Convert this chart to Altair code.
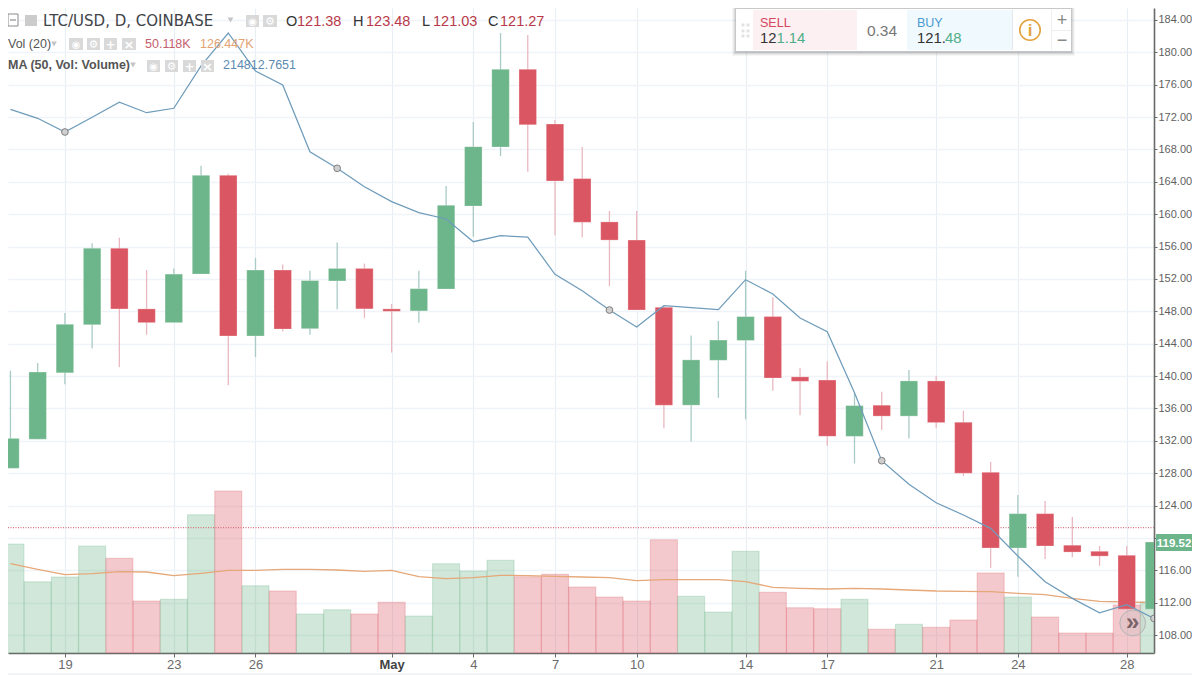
import altair as alt
import pandas as pd

# ---- data -----------------------------------------------------------------
days = list(range(43))
opens = [128.6,132.2,140.4,146.35,155.8,148.3,146.6,152.6,164.8,144.95,153.1,145.85,151.75,153.3,148.3,148.05,150.75,161.0,168.3,177.9,171.15,164.4,159.05,156.8,148.5,136.4,141.95,144.4,147.35,139.9,139.5,132.55,136.4,135.05,139.4,134.3,128.1,118.75,123.0,119.1,118.35,117.85,111.2]
closes = [132.3,140.5,146.4,155.8,148.3,146.6,152.6,164.8,144.95,153.1,145.8,151.8,153.3,148.3,148.0,150.8,161.1,168.35,177.9,171.05,164.1,159.0,156.8,148.15,136.4,142.0,144.45,147.35,139.75,139.35,132.55,136.35,135.05,139.4,134.25,128.0,118.75,123.0,119.0,118.25,117.75,111.2,119.5]
highs = [140.66,141.6,147.8,156.4,157.1,153.1,153.3,166.0,165.0,154.6,153.8,153.0,156.5,153.9,148.9,153.0,163.5,171.4,182.4,182.15,171.65,168.3,160.4,160.4,148.6,145.0,146.8,153.0,149.7,141.0,141.8,137.85,138.05,140.75,140.0,135.7,129.4,125.3,124.55,122.6,119.0,119.0,119.52]
lows = [128.6,132.2,139.0,143.4,141.1,145.1,146.55,152.6,138.85,142.35,145.5,145.1,148.25,147.15,142.9,146.6,150.75,157.2,167.2,165.25,157.4,157.15,151.1,148.15,133.55,131.9,137.3,134.65,138.2,135.15,131.4,129.2,133.35,132.3,133.6,127.65,116.3,115.2,117.4,117.6,116.55,111.2,111.2]
volumes = [270.3,176.8,188.5,265.4,234.9,129.0,133.2,343.0,401.8,166.9,153.8,96.7,107.4,96.7,125.7,91.8,221.5,203.4,229.9,189.2,195.2,163.7,138.9,129.0,281.0,140.6,101.7,252.2,150.5,112.3,109.9,133.2,58.8,71.2,63.7,81.8,198.4,138.9,89.3,49.6,49.6,119.0,127.2]
vol_ma = [221.5,207.6,194.2,196.7,201.6,200.9,191.7,197.7,205.1,205.1,207.6,207.6,205.8,202.6,205.1,189.2,184.3,186.7,192.7,191.7,190.2,188.5,186.7,179.3,181.8,181.8,181.8,176.8,162.9,160.5,158.7,160.5,158.7,156.2,153.8,153.0,152.0,148.1,144.6,135.7,128.2,126.5,124.7]
ma50_line = [172.96,171.85,170.16,171.98,173.83,172.54,173.09,178.32,182.39,177.7,175.97,167.72,165.67,163.4,161.55,160.19,159.41,156.6,157.34,157.18,152.57,150.55,148.16,146.06,148.69,148.45,148.2,151.91,150.14,147.17,145.48,137.94,129.54,126.62,124.35,122.83,121.18,117.76,114.59,112.53,110.75,111.74,110.06]
ma_markers = [2,12,22,32,42]
last_close_line = 121.27
tick_days = [2,6,9,14,17,20,23,27,30,34,37,41]
tick_labels = ["19","23","26","May","4","7","10","14","17","21","24","28"]
price_ticks = list(range(108,188,4))

GREEN, RED = "#6db58a", "#da5662"
df = pd.DataFrame({"day":days,"open":opens,"close":closes,"high":highs,"low":lows,
                   "vol":volumes,"volma":vol_ma,"ma":ma50_line})
df["dir"] = ["up" if c>=o else "down" for o,c in zip(opens,closes)]
mk = df[df.day.isin(ma_markers)]

xscale = alt.Scale(domain=[-0.09,42], nice=False, zero=False, padding=0)
pscale = alt.Scale(domain=[105.78,185.48], nice=False, zero=False, padding=0)
vscale = alt.Scale(domain=[0,1599.6], nice=False, zero=False, padding=0)
label_map = "{" + ",".join(f"{d}:'{l}'" for d,l in zip(tick_days,tick_labels)) + "}"
FONT = "Liberation Sans"

xaxis = alt.Axis(values=tick_days, labelExpr=label_map+"[datum.value]", title=None, grid=True,
                 gridColor="#e9eef4", gridWidth=1.2, domainColor="#6a6a6a", domainWidth=1.6,
                 tickColor="#6a6a6a", tickSize=4, labelColor={"condition":{"test":"datum.value == 14","value":"#444444"},"value":"#6b6b6b"},
                 labelFontWeight={"condition":{"test":"datum.value == 14","value":"bold"},"value":"normal"},
                 labelFontSize=13, labelFont=FONT, labelPadding=1, labelFlush=False, labelOverlap=False)
yaxis = alt.Axis(values=price_ticks, labelExpr="datum.value == 120 ? '' : format(datum.value, '.2f')",
                 orient="right", title=None, grid=True,
                 gridColor="#f0f3f7", gridWidth=1.6, domainColor="#6a6a6a", domainWidth=1.6,
                 tickColor="#6a6a6a", tickSize=3, labelColor="#5f5f5f", labelFontSize=11,
                 labelFont=FONT, labelPadding=1, labelOverlap=False)
X = alt.X("day:Q", scale=xscale, axis=None)
dir_color = alt.Color("dir:N", legend=None, scale=alt.Scale(domain=["up","down"], range=[GREEN,RED]))
wick_color = alt.Color("dir:N", legend=None, scale=alt.Scale(domain=["up","down"], range=["#a9cbc6","#e9b8c0"]))

base = alt.Chart(df)
grid_layer = base.mark_rule(opacity=0).encode(x=alt.X("day:Q", scale=xscale, axis=xaxis),
                                              y=alt.Y("close:Q", scale=pscale, axis=yaxis))
vol_layer = base.mark_bar(size=27, orient="vertical", clip=True, fillOpacity=0.32, strokeWidth=1.1, strokeOpacity=0.28).encode(
    x=X, y=alt.Y("vol:Q", scale=vscale, axis=None, stack=None),
    color=dir_color, stroke=dir_color)
volma_layer = base.mark_line(color="#e6a878", strokeWidth=1.3, clip=True).encode(
    x=X, y=alt.Y("volma:Q", scale=vscale, axis=None))
dotted = alt.Chart(pd.DataFrame({"p":[last_close_line]})).mark_rule(color="#d9707d", strokeWidth=1.1, strokeDash=[1,1.5]).encode(
    y=alt.Y("p:Q", scale=pscale, axis=None))
wicks = base.mark_rule(strokeWidth=1.3, clip=True).encode(
    x=X, y=alt.Y("low:Q", scale=pscale, axis=None), y2="high:Q", color=wick_color)
bodies = base.mark_bar(size=17.5, orient="vertical", clip=True, stroke="#ffffff", strokeOpacity=0.35, strokeWidth=0.8).encode(
    x=X, y=alt.Y("open:Q", scale=pscale, axis=None), y2="close:Q", color=dir_color)
ma_line = base.mark_line(color="#6f9cbb", strokeWidth=1.25, clip=True).encode(
    x=X, y=alt.Y("ma:Q", scale=pscale, axis=None))
ma_pts = alt.Chart(mk).mark_point(filled=True, fill="#cfcfcf", stroke="#7f7f7f", strokeWidth=1, size=45, opacity=1, clip=True).encode(
    x=X, y=alt.Y("ma:Q", scale=pscale, axis=None))

# ---- screen furniture, in page pixels --------------------------------------
one = pd.DataFrame({"_":[0]})
def txt(s, x, y, color="#444444", size=13, align="left", weight="normal", font=FONT, baseline="alphabetic"):
    return alt.Chart(one).mark_text(text=s, align=align, baseline=baseline, color=color, fontSize=size,
                                    fontWeight=weight, font=font).encode(x=alt.value(x-8), y=alt.value(y-8))
def box(x0, x1, y0, y1, fill, **kw):
    return alt.Chart(one).mark_rect(fill=fill, **kw).encode(
        x=alt.value(x0-8), x2=alt.value(x1-8), y=alt.value(y0-8), y2=alt.value(y1-8))
def dot(x, y, size, **kw):
    return alt.Chart(one).mark_point(size=size, **kw).encode(x=alt.value(x-8), y=alt.value(y-8))
def caret(x, y):
    return dot(x, y, 32, shape="triangle-down", filled=True, fill="#c4c4c4", stroke="#c4c4c4", opacity=1, strokeWidth=0)
def icon(x0, y0, w, h, glyph, gsize=11):
    return [box(x0, x0+w, y0, y0+h, "#d9d9d9"),
            txt(glyph, x0+w/2, y0+h/2+0.5, "#ffffff", gsize, "center", "bold", "DejaVu Sans", "middle")]

over = []
# header line 1
over += [box(8,18,14,26,"#ffffff",stroke="#8a8a8a",strokeWidth=1), box(10,16,19.5,20.5,"#777777"),
         box(25,37,15,26,"#cccccc")]
over += [txt("LTC/USD, D, COINBASE",43,26,"#3f4448",15,font="DejaVu Sans"), caret(230.5,20)]
over += icon(246,15,13,12,"◉",10) + icon(263,15,14,12,"⚙",11)
over += [txt("O",286,26,"#333333",14.5), txt("121.38",297,26,"#b8394a",14.5),
         txt("H",353,26,"#333333",14.5), txt("123.48",366,26,"#b8394a",14.5),
         txt("L",422,26,"#333333",14.5), txt("121.03",433,26,"#b8394a",14.5),
         txt("C",488,26,"#333333",14.5), txt("121.27",500,26,"#b8394a",14.5)]
# header line 2
over += [txt("Vol (20)",8,48,"#555555",12.5), caret(54,44)]
over += icon(69,38,14,12,"◉",10)+icon(87,38,13,12,"⚙",11)+icon(104,38,13,12,"+",12)+icon(122,38,14,12,"×",13)
over += [txt("50.118K",145,48,"#c4606e",12.5), txt("126.447K",200,48,"#e2a273",12.5)]
# header line 3
over += [txt("MA (50, Vol: Volume)",8,69,"#555555",12.5,weight="bold"), caret(133,65)]
over += icon(147,60,13,12,"◉",10)+icon(165,60,13,12,"⚙",11)+icon(183,60,13,12,"+",12)+icon(201,60,13,12,"×",13)
over += [txt("214812.7651",223,69,"#5d8bb0",12.5)]
# trading panel
for pad, op in [(4,0.05),(3,0.07),(2,0.10),(1,0.14)]:
    over.append(box(736-pad,1071+pad,9-pad,51+pad+1,"#555555",opacity=op))
over += [box(736,1071,9,51,"#ffffff"), box(753,857,10,50,"#fdf0f2"), box(907,1012,10,50,"#f0f9fd"),
         box(1012,1013,10,50,"#e4e8ec"), box(1051,1052,10,50,"#eeeeee"), box(1052,1071,30,31,"#eeeeee")]
for dx in (743,748):
    for dy in (25,31,36):
        over.append(box(dx-1.5,dx+1.5,dy-1.5,dy+1.5,"#e2e2e2"))
over += [txt("SELL",760,27,"#d6455d",12.5), txt("12",760,43,"#333333",14.8), txt("1.14",776.5,43,"#4fae89",14.8),
         txt("0.34",882,36,"#777777",15.5,"center"),
         txt("BUY",917,27,"#4a9ad0",12.5), txt("121.",917,43,"#333333",14.8), txt("48",945,43,"#4fae89",14.8)]
over += [dot(1030,30,420,shape="circle",stroke="#e3a23e",strokeWidth=1.6,fill="#ffffff",filled=False,opacity=1),
         txt("i",1030,36,"#e3a23e",17,"center","bold")]
over += [txt("+",1062,26,"#888888",18,"center"), txt("−",1062,46,"#888888",18,"center")]
# last price tag and scroll button
over += [box(1156,1192,534,551,"#6cb58a"), txt("119.52",1174,547,"#ffffff",11.5,"center","bold")]
over += [dot(1132.7,623,660,shape="circle",filled=True,fill="#bbbbbb",opacity=0.25,strokeWidth=0),
         dot(1132.7,623,660,shape="circle",filled=False,stroke="#b5b5b5",strokeWidth=1,opacity=1),
         txt("»",1132.7,630,"#7b6468",24,"center","bold")]
over += [box(8,1192,673,675,"#f3f4f6")]

chart = alt.layer(grid_layer, vol_layer, volma_layer, dotted, wicks, bodies, ma_line, ma_pts, *over).resolve_scale(
    y="independent", color="independent"
).resolve_axis(x="independent").properties(width=1146, height=645, padding={"left":0,"top":0,"right":38,"bottom":22},
             autosize=alt.AutoSizeParams(type="none"), background="#ffffff"
).configure_view(stroke=None)

chart.save("out.html", embed_options={"renderer":"svg","actions":False})
